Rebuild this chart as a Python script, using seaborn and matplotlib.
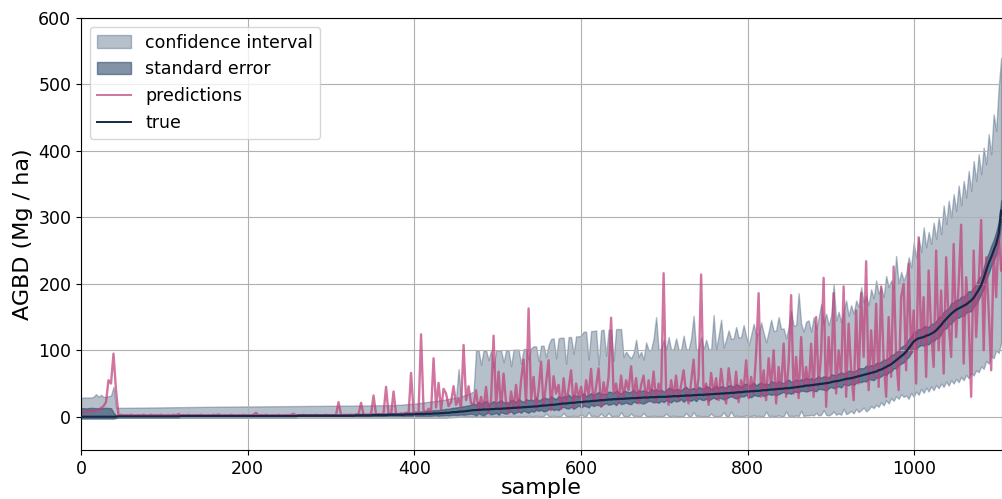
import numpy as np
import pandas as pd
import matplotlib
matplotlib.use("Agg")
import matplotlib.pyplot as plt
import seaborn as sns

# sample index (every 3rd sample of the sorted test set)
sample = np.arange(0, 1105, 3)

true_agbd = [
    # 0-42
    0, 0, 0, 0, 0, 0, 0, 0, 0, 0, 0, 0, 0, 0, 0,
    # 45-468
    0.5, 0.5, 0.5, 0.5, 0.5, 0.5, 0.5, 0.5, 0.5, 0.5,
    0.5, 0.5, 0.5, 0.5, 0.5, 0.5, 0.5, 0.5, 0.5, 0.5,
    0.5, 0.5, 0.5, 0.5, 0.5,
    1, 1, 1, 1, 1, 1, 1, 1, 1, 1,
    1, 1, 1, 1, 1, 1, 1, 1, 1, 1,
    1, 1, 1, 1, 1, 1, 1, 1, 1, 1,
    1, 1, 1, 1, 1, 1, 1, 1, 1, 1,
    1, 1, 1, 1, 1, 1, 1,
    1.5, 1.5, 1.5, 1.5, 1.5, 1.5, 1.5, 1.5, 1.5, 1.5,
    1.5, 1.5, 1.5, 1.5, 1.5, 1.5, 1.5, 1.5, 1.5, 1.5,
    1.5, 1.5, 1.5, 2, 2, 2, 2, 2, 2, 2,
    2.5, 2.5, 2.5, 2.5, 2.5, 2.5, 3, 3, 3, 3,
    3, 3, 3, 3.5, 3.5, 3.5, 3.5, 4, 4, 4,
    4, 4.5, 4.5, 4.5, 5, 5, 5, 5.5, 5.5, 6,
    6, 6.5, 7, 7, 7.5, 8, 8, 8.5, 9, 9.5,
    # 471-870
    10, 10, 10.5, 10.5, 11, 11, 11, 11.5, 11.5, 12,
    12, 12, 12.5, 12.5, 13, 13, 13.5, 13.5, 14, 14, 14.5, 14.5, 15, 15, 15.5, 15.5, 16,
    16.5, 17, 17, 17.5, 18, 18, 18.5, 19, 19.5, 20, 20, 20.5, 21, 21, 21.5, 22, 22,
    22.5, 23, 23, 23.5, 24, 24, 24.5, 25, 25, 25.5, 26, 26, 26.5, 26.5, 27, 27, 27,
    27.5, 27.5, 28, 28, 28, 28.5, 28.5, 29, 29, 29, 29.5, 29.5, 29.5, 30, 30, 30,
    30, 30.5, 30.5, 31, 31, 31, 31.5, 31.5, 32, 32, 32, 32.5, 32.5, 33, 33, 33, 33.5,
    33.5, 34, 34, 34.5, 34.5, 35, 35, 35.5, 35.5, 36, 36, 36.5, 37, 37, 37.5, 38, 38,
    38.5, 38.5, 39, 39, 39.5, 40, 40, 40.5, 41, 41, 41.5, 42, 42, 42.5, 43, 43, 43.5,
    44, 44.5, 45, 45.5, 46, 47,
    # 873-987
    47, 47.5, 48, 48.5, 49, 49.5, 50, 50.5, 51, 52, 53,
    53.5, 54, 55, 56, 57, 57.5, 58, 59, 60, 61, 62,
    63, 64, 65, 66, 67, 68, 70, 71, 73, 75,
    77, 79, 82, 85, 88, 91, 94,
    # 990-1104
    98, 103, 108, 113, 116, 118, 119, 120, 122, 123,
    125, 127, 130, 134, 138, 143, 147, 151, 155, 158,
    161, 163, 165, 167, 169, 172, 175, 179, 185, 191,
    198, 208, 220, 231, 240, 250, 260, 275, 310,
]

pred_agbd = [
    # 0-42
    7, 7, 7.5, 8, 8.5, 9, 10, 11, 13, 16, 22, 55, 50, 95, 40,
    # 45-198
    2, 3, 2, 2.5, 2, 3, 2, 2, 2.5, 2, 3, 2, 2, 3, 2, 2.5, 2, 3, 2, 2,
    2.5, 2, 3, 2, 4, 2, 2.5, 2, 3, 2, 2, 2.5, 2, 3, 2, 2, 2.5, 2, 3, 2,
    3.5, 2, 2, 2.5, 2, 3, 2, 2, 2.5, 2, 3, 2,
    # 201-318
    2.5, 2, 3, 6, 2, 2.5, 2, 3, 2, 2, 2.5, 2, 3, 2, 2, 2.5, 2, 3, 4.5, 2,
    2.5, 2, 3, 2, 2, 2.5, 2, 3, 2, 2.5, 2, 3, 2, 2.5, 2, 3, 22, 3, 2.5, 3,
    # 321-378
    2.5, 3, 2.5, 3, 4, 21, 3, 2.5, 3, 4, 32, 3, 4, 3, 5, 45, 4, 3, 38, 4,
    # 381-468
    3.5, 5, 4, 6, 4, 66, 8, 5, 6, 124, 10, 6, 12, 8, 88, 14, 51, 10, 42, 35,
    16, 22, 46, 18, 28, 14, 108, 25, 46, 20,
    # 471-540
    18, 40, 8, 30, 12, 45, 6, 25, 122, 15, 68, 10, 65, 20, 5, 38, 12, 48, 8, 55,
    86, 18, 163, 25,
    # 543-600
    60, 12, 40, 83, 15, 50, 85, 10, 61, 35, 48, 12, 58, 20, 42, 70, 15, 50, 28, 45,
    # 603-660
    18, 55, 30, 72, 20, 45, 73, 15, 52, 30, 60, 149, 35, 50, 22, 62, 28, 55, 40, 76,
    # 663-720
    30, 58, 20, 48, 62, 25, 55, 30, 68, 22, 50, 35, 216, 40, 18, 55, 30, 62, 25, 48,
    # 723-780
    70, 35, 20, 52, 86, 28, 60, 214, 32, 50, 18, 66, 35, 58, 25, 72, 40, 20, 73, 45,
    # 783-870
    30, 68, 22, 55, 40, 85, 28, 60, 35, 95, 186, 30, 70, 25, 88, 45, 100, 20, 75, 40,
    110, 30, 80, 183, 35, 90, 28, 120, 45, 75,
    # 873-987
    40, 110, 30, 150, 45, 95, 209, 15, 120, 55, 186, 35, 100, 60, 196, 30, 140, 70, 25, 160,
    50, 186, 90, 234, 40, 130, 60, 170, 45, 196, 85, 30, 150, 60, 226, 90, 40, 180, 200,
    # 990-1104
    70, 230, 95, 160, 50, 270, 110, 180, 60, 220, 130, 75, 250, 100, 190, 65, 240, 140, 90, 260,
    120, 200, 289, 80, 210, 150, 30, 250, 120, 200, 296, 100, 240, 160, 70, 250, 180, 280, 220,
]

ci_lower = [
    # 0-42
    -3, -3, -3, -3, -3, -3, -3, -3, -3, -3, -3, -3, -3, -3, -1,
    # 45-468
    -1.5, -1.5, -1.5, -1.5, -1.5, -1.5, -1.5, -1.5, -1.5, -1.5,
    -1.5, -1.5, -1.5, -1.5, -1.5, -1.5, -1.5, -1.5, -1.5, -1.5,
    -1.5, -1.5, -1.5, -1.5, -1.5, -1.5, -1.5, -1.5, -1.5, -1.5,
    -1.5, -1.5, -1.5, -1.5, -1.5, -1.5, -1.5, -1.5, -1.5, -1.5,
    -1.5, -1.5, -1.5, -1.5, -1.5, -1.5, -1.5, -1.5, -1.5, -1.5,
    -1.5, -1.5, -1.5, -1.5, -1.5, -1.5, -1.5, -1.5, -1.5, -1.5,
    -1.5, -1.5, -1.5, -1.5, -1.5, -1.5, -1.5, -1.5, -1.5, -1.5,
    -1.5, -1.5, -1.5, -1.5, -1.5, -1.5, -1.5, -1.5, -1.5, -1.5,
    -1.5, -1.5, -1.5, -1.5, -1.5, -1.5, -1.5, -1.5, -1.5, -1.5,
    -1.5, -1.5, -1.5, -1.5, -1.5, -1.5, -1.5, -1.5, -1.5, -1.5,
    -1.5, -1.5, -1.5, -1.5, -1.5, -1.5, -1.5, -1.5, -1.5, -1.5,
    -1.5, -1.5, -1.5, -1.5, -1.5, -1.5, -1.5, -1.5, -1.5, -1.5,
    -1.5, -1.5, -1.5, -1.5, -1.5, -1.5, -1.5, -1.5, -1.5, -1.5,
    -1.5, -1.5,
    -1, -1, -0.5, -0.5, 0, 0, 0, 0.5, 0.5, 1,
    # 471-540
    1, 1, 1.5, 1, 1, 1, 1.5, 1, 1, 1, 1, 1.5, 1, 1, 1, 1, 1.5, 1, 1, 1, 1, 1, 1.5, 1,
    # 543-600
    1, 1.5, 1, 1, 1, 5, 1, 1, 1.5, 1, 1, 1, 6, 1, 1, 1, 1.5, 1, 1, 4,
    # 603-660
    1, 1, 7, 1, 1.5, 1, 1, 5, 1, 1, 6, 1, 1, 1.5, 1, 7, 1, 1, 1, 5,
    # 663-720
    1, 1.5, 1, 1, 6, 1, 1, 1, 1.5, 1, 1, 1, 1, 5, 1, 1, 1.5, 1, 1, 1,
    # 723-780
    1, 6, 1, 1, 7, 1, 1.5, 1, 1, 1, 1, 5, 1, 1, 1, 1.5, 7, 1, 1, 8,
    # 783-870
    1, 1.5, 1, 1, 1, 2, 1, 1, 2, 1, 1.5, 1, 1, 8, 1, 1.5, 1, 1, 2, 1,
    1, 8, 1, 1.5, 1, 2, 1, 9, 1, 2,
    # 873-987
    2, 3, 2, 6, 2, 3, 10, 3, 2, 4, 8, 3, 5, 3, 12, 4,
    6, 9, 5, 12, 7, 10, 14, 8, 11, 16,
    13, 18, 15, 22, 17, 25, 20, 28, 24, 31, 27, 34, 30,
    # 990-1104
    32, 27, 36, 30, 38, 33, 42, 36, 44, 38, 46, 40, 48, 43, 50, 45, 53, 47, 55, 50,
    57, 52, 60, 55, 63, 58, 66, 62, 70, 67, 76, 72, 84, 80, 92, 88, 100, 96, 112,
]

ci_upper = [
    # 0-42
    28, 29, 29, 29, 29, 30, 34, 30, 33, 30, 30, 31, 32, 45, 14,
    # 45-198
    13.5, 13.5, 13.5, 13.5, 13.5, 13.6, 13.6, 13.7, 13.7, 13.8,
    13.8, 13.9, 13.9, 14, 14, 14, 14.1, 14.1, 14.2, 14.2,
    14.3, 14.3, 14.4, 14.4, 14.5, 14.5, 14.5, 14.6, 14.6, 14.7,
    14.7, 14.8, 14.8, 14.9, 14.9, 15, 15, 15, 15.1, 15.1,
    15.2, 15.2, 15.2, 15.3, 15.3, 15.3, 15.4, 15.4, 15.4, 15.5,
    15.5, 15.5,
    # 201-318
    15.5, 15.5, 15.6, 15.6, 15.6, 15.7, 15.7, 15.7, 15.8, 15.8,
    15.8, 15.9, 15.9, 15.9, 16, 16, 16, 16, 16.1, 16.1,
    16.1, 16.2, 16.2, 16.2, 16.3, 16.3, 16.3, 16.4, 16.4, 16.4,
    16.5, 16.5, 16.5, 16.5, 16.6, 16.6, 16.6, 16.7, 16.7, 16.7,
    # 321-378
    16.8, 16.8, 16.8, 16.9, 16.9, 17, 17, 17, 17.1, 17.1,
    17.2, 17.2, 17.3, 17.3, 17.4, 17.4, 17.5, 17.5, 17.6, 17.7,
    # 381-468
    18, 18, 18.5, 19, 19, 19.5, 19.5, 20, 20.5, 21,
    21.5, 22, 22.5, 23, 23.5, 24, 24.5, 25, 25.5, 26,
    27, 27.5, 28.5, 29, 72, 30, 32, 33, 34, 36,
    # 471-540
    38,
    100, 100, 78, 100, 100, 85, 100, 74, 100, 100, 100, 82, 100, 100, 76, 101, 101, 101, 80, 102,
    102, 86, 103,
    # 543-561
    106, 106, 84, 107, 107, 90, 108,
    # 564-600
    117, 118, 88, 118, 119, 119, 80, 120, 120, 95, 121, 121, 122,
    # 603-654
    128, 128, 86, 129, 129, 130, 78, 130, 131, 92, 131, 131, 84, 132, 132, 132, 90, 98,
    # 657-681
    92, 88, 96, 116, 90, 98, 86, 112, 100,
    # 684-771
    101, 118, 150, 101, 102, 116, 101, 120, 101, 102, 118, 101, 101, 122, 102, 101, 118, 152, 101, 102,
    120, 101, 116, 102, 101, 153, 102, 122, 146, 104,
    # 774-870
    116, 130, 117, 118, 135, 119, 120, 138, 121, 108, 123, 140, 124, 125, 142, 126, 112, 128, 146, 129,
    130, 150, 132, 133, 118, 135, 160, 137, 138, 186, 140, 128, 143,
    # 873-987
    145, 128, 150, 132, 148, 170, 140, 155, 138, 152, 200, 145, 158, 142, 160, 175, 152, 168, 155, 175,
    165, 195, 172, 182, 168, 192, 178, 205, 185, 195, 180, 212, 195, 205, 192, 242, 200, 218, 205,
    # 990-1104
    215, 240, 225, 262, 240, 270, 248, 285, 255, 278, 260, 292, 268, 300, 275, 318, 290, 325, 300, 335,
    310, 348, 318, 355, 330, 370, 340, 385, 355, 395, 365, 405, 380, 425, 395, 455, 430, 495, 540,
]

# standard-error band, read as distance below / above the true curve
se_below = [
    # 0-42
    2, 2, 2, 2, 2, 2, 2, 2, 2, 2, 2, 2, 2, 2, 2,
    # 45-468
    1.5, 1.5, 1.5, 1.5, 1.5, 1.5, 1.5, 1.5, 1.5, 1.5,
    1.5, 1.5, 1.5, 1.5, 1.5, 1.5, 1.5, 1.5, 1.5, 1.5,
    1.5, 1.5, 1.5, 1.5, 1.5, 1.5, 1.5, 1.5, 1.5, 1.5,
    1.5, 1.5, 1.5, 1.5, 1.5, 1.5, 1.5, 1.5, 1.5, 1.5,
    1.5, 1.5, 1.5, 1.5, 1.5, 1.5, 1.5, 1.5, 1.5, 1.5,
    1.5, 1.5, 1.5, 1.5, 1.5, 1.5, 1.5, 1.5, 1.5, 1.5,
    1.5, 1.5, 1.5, 1.5, 1.5, 1.5, 1.5, 1.5, 1.5, 1.5,
    1.5, 1.5, 1.5, 1.5, 1.5, 1.5, 1.5, 1.5, 1.5, 1.5,
    1.5, 1.5, 1.5, 1.5, 1.5, 1.5, 1.5, 1.5, 1.5, 1.5,
    1.5, 1.5, 1.5, 1.5, 1.5, 1.5, 1.5, 1.5, 1.5, 1.5,
    1.5, 1.5, 1.5, 1.5, 1.5, 1.5, 1.5, 1.5, 1.5, 1.5,
    1.5, 1.5,
    1.5, 1.5, 2, 2, 2, 2, 2, 2.5, 2.5, 2.5,
    2.5, 3, 3, 3, 3, 3, 3.5, 3.5, 3.5, 3.5,
    4, 4, 4, 4.5, 4.5, 4.5, 5, 5, 5, 5,
    # 471-870
    6, 8, 5, 7, 9, 6, 5, 8, 7, 6, 9, 5, 7, 8, 6, 5, 9, 7, 6, 8,
    5, 7, 9, 6, 8, 5, 7, 6, 9, 8, 6, 5, 8, 7, 9, 6, 5, 7, 8, 6,
    9, 7, 5, 8, 6, 7, 9, 5, 8, 6, 7, 9, 6, 5, 8, 7, 6, 9, 5, 8,
    7, 6, 8, 9, 5, 7, 6, 8, 9, 7, 5, 6, 8, 7, 9, 6, 8, 5, 7, 9,
    6, 8, 7, 5, 9, 6, 7, 8, 6, 9, 5, 7, 8, 6, 9, 7, 5, 8, 6, 7,
    9, 8, 6, 5, 7, 9, 8, 6, 7, 5, 8, 9, 6, 7, 8, 5, 9, 7, 6, 8,
    7, 9, 8, 6, 5, 8, 7, 9, 6, 7, 8, 6, 7, 9,
    # 873-987
    8, 7, 9, 10, 7, 8, 9, 11, 8, 7, 10, 9, 8, 11, 7, 9, 10, 8, 11, 9,
    8, 10, 9, 11, 8, 10, 12, 9, 11, 10, 9, 12, 10, 11, 9, 12, 10, 11, 12,
    # 990-1104
    11, 13, 12, 10, 14, 12, 11, 13, 12, 14, 11, 13, 12, 15, 13, 11, 14, 12, 15, 13,
    12, 14, 13, 15, 12, 14, 16, 13, 15, 14, 13, 16, 14, 15, 13, 16, 15, 14, 16,
]

se_above = [
    # 0-42
    13, 13, 12.5, 13, 13.5, 13, 13, 12.5, 13, 13, 13.5, 13, 13, 6, 2,
    # 45-468
    2, 2, 2, 2, 2, 2, 2, 2, 2, 2,
    2, 2, 2, 2, 2, 2, 2, 2, 2, 2,
    2, 2, 2, 2, 2, 2, 2, 2, 2, 2,
    2, 2, 2, 2, 2, 2, 2, 2, 2, 2,
    2, 2, 2, 2, 2, 2, 2, 2, 2, 2,
    2, 2, 2, 2, 2, 2, 2, 2, 2, 2,
    2, 2, 2, 2, 2, 2, 2, 2, 2, 2,
    2, 2, 2, 2, 2, 2, 2, 2, 2, 2,
    2, 2, 2, 2, 2, 2, 2, 2, 2, 2,
    2, 2,
    2.5, 2.5, 2.5, 2.5, 2.5, 2.5, 2.5, 2.5, 2.5, 2.5,
    2.5, 2.5, 2.5, 2.5, 2.5, 2.5, 2.5, 2.5, 2.5, 2.5,
    2.5, 2.5, 3, 3, 3, 3, 3.5, 3.5, 3.5, 4,
    4, 4, 4.5, 4.5, 5, 5, 5, 5.5, 5.5, 6,
    6, 6.5, 6.5, 7, 7, 7.5, 7.5, 8, 8, 8.5,
    # 471-870
    10, 8, 12, 9, 11, 13, 8, 10, 12, 9, 11, 13, 9, 10, 8, 12, 11, 9, 13, 10,
    8, 12, 10, 11, 9, 13, 8, 10, 12, 11, 9, 13, 10, 8, 12, 9, 11, 10, 13, 8,
    12, 10, 9, 11, 13, 8, 10, 12, 9, 11, 13, 9, 10, 8, 12, 11, 9, 13, 10, 8,
    12, 11, 9, 10, 13, 8, 12, 10, 11, 9, 8, 13, 10, 12, 9, 11, 8, 10, 13, 12,
    9, 11, 10, 8, 12, 13, 9, 10, 11, 8, 12, 10, 9, 13, 11, 8, 10, 12, 9, 11,
    10, 8, 12, 11, 9, 13, 10, 8, 11, 12, 9, 10, 13, 8, 11, 12, 9, 10, 8, 13,
    11, 9, 12, 10, 8, 11, 13, 9, 10, 12, 9, 11, 10, 12,
    # 873-987
    9, 11, 8, 10, 12, 9, 11, 10, 8, 12, 10, 9, 11, 12, 9, 10, 12, 11, 9, 10,
    12, 11, 10, 13, 11, 12, 10, 13, 11, 12, 13, 11, 12, 14, 12, 13, 11, 14, 13,
    # 990-1104
    12, 14, 13, 15, 12, 14, 13, 16, 14, 12, 15, 13, 14, 16, 13, 15, 14, 12, 16, 14,
    15, 13, 16, 14, 15, 17, 14, 16, 15, 17, 14, 16, 18, 15, 17, 16, 18, 17, 16,
]

for _name, _arr in [("true", true_agbd), ("pred", pred_agbd), ("ci_lo", ci_lower),
                    ("ci_hi", ci_upper), ("se_below", se_below), ("se_above", se_above)]:
    assert len(_arr) == len(sample), (_name, len(_arr), len(sample))

df = pd.DataFrame({
    "sample": sample,
    "true": true_agbd,
    "pred": pred_agbd,
    "ci_lo": ci_lower,
    "ci_hi": ci_upper,
})
df["se_lo"] = df["true"] - np.array(se_below)
df["se_hi"] = df["true"] + np.array(se_above)

plt.rcParams["font.family"] = ["DejaVu Sans"]

fig = plt.figure(figsize=(10.02, 4.99), dpi=100)
ax = fig.add_axes([81 / 1002, 49 / 499, 921 / 1002, 432 / 499])

navy = "#2f4b6c"
ax.fill_between(df["sample"], df["ci_lo"], df["ci_hi"], color=navy, alpha=0.35,
                linewidth=1, label="confidence interval", zorder=1)
ax.fill_between(df["sample"], df["se_lo"], df["se_hi"], color=navy, alpha=0.6,
                linewidth=1, label="standard error", zorder=1.2)
sns.lineplot(data=df, x="sample", y="pred", color="#c03f7a", alpha=0.72,
             linewidth=1.7, label="predictions", ax=ax, estimator=None, zorder=2)
sns.lineplot(data=df, x="sample", y="true", color="#142846", linewidth=1.6,
             label="true", ax=ax, estimator=None, zorder=3)

ax.set_xlim(0, 1105)
ax.set_ylim(-50, 600)
ax.set_xticks(range(0, 1001, 200))
ax.set_yticks(range(0, 601, 100))
ax.grid(True, color="#b0b0b0", linewidth=0.8)
ax.tick_params(labelsize=12.5)
ax.set_xlabel("sample", fontsize=16, labelpad=0.5)
ax.set_ylabel("AGBD (Mg / ha)", fontsize=16)
leg = ax.legend(loc="upper left", fontsize=12.5)
for h in leg.get_lines():
    h.set_linewidth(1.4)

fig.savefig("out.png", dpi=100)
